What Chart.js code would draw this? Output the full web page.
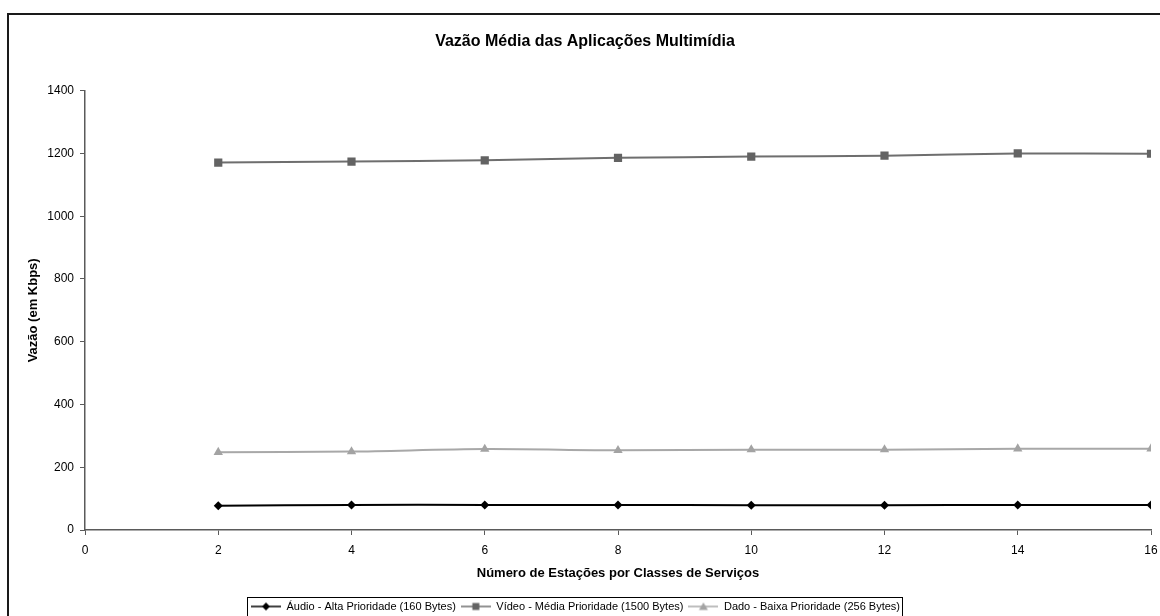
<!DOCTYPE html>
<html>
<head>
<meta charset="utf-8">
<script src="https://cdn.jsdelivr.net/npm/chart.js@4/dist/chart.umd.min.js"></script>
<style>
  html, body { margin: 0; padding: 0; background: #fff; overflow: hidden; }
  #frame { position: absolute; left: 7px; top: 13px; width: 2000px; height: 2000px;
           border-top: 2px solid #1a1a1a; border-left: 2px solid #1a1a1a; }
  #wrap { position: absolute; left: 0; top: 0; width: 1160px; height: 616px; }
</style>
</head>
<body>
<div id="frame"></div>
<div id="wrap"><canvas id="c" width="1160" height="616"></canvas></div>
<script>
const chartTitle = 'Vazão Média das Aplicações Multimídia';
const xTitle = 'Número de Estações por Classes de Serviços';
const yTitle = 'Vazão (em Kbps)';
const stations = [2, 4, 6, 8, 10, 12, 14, 16];
const seriesNames = [
  'Áudio - Alta Prioridade (160 Bytes)',
  'Vídeo - Média Prioridade (1500 Bytes)',
  'Dado - Baixa Prioridade (256 Bytes)'
];
const audio = [77, 80, 80, 80, 79, 79, 80, 80];
const video = [1171, 1174, 1178, 1186, 1190, 1193, 1200, 1199];
const dado  = [248, 250, 258, 254, 256, 256, 259, 259];
const xTicks = [0, 2, 4, 6, 8, 10, 12, 14, 16];
const yTicks = [0, 200, 400, 600, 800, 1000, 1200, 1400];

const FONT = '"Liberation Sans", Arial, sans-serif';
Chart.defaults.font.family = FONT;
Chart.defaults.color = '#000';

const styles = [
  { line: '#000000', fill: '#000000', point: 'rectRot', radius: 4.5 },
  { line: '#6e6e6e', fill: '#636363', point: 'rect', radius: 5.8 },
  { line: '#a8a8a8', fill: '#a3a3a3', point: 'triangle', radius: 5.4 }
];
const values = [audio, video, dado];

function makeIcon(s) {
  const cv = document.createElement('canvas');
  cv.width = 30; cv.height = 12;
  const ctx = cv.getContext('2d');
  ctx.strokeStyle = s.line; ctx.lineWidth = 1.5;
  ctx.beginPath(); ctx.moveTo(0, 6); ctx.lineTo(30, 6); ctx.stroke();
  ctx.fillStyle = s.fill;
  ctx.beginPath();
  if (s.point === 'rectRot') {
    ctx.moveTo(15, 2); ctx.lineTo(19, 6); ctx.lineTo(15, 10); ctx.lineTo(11, 6);
  } else if (s.point === 'rect') {
    ctx.rect(11.5, 2.5, 7, 7);
  } else {
    ctx.moveTo(15, 2); ctx.lineTo(19.5, 9.5); ctx.lineTo(10.5, 9.5);
  }
  ctx.closePath(); ctx.fill();
  return cv;
}
const icons = styles.map(makeIcon);

const datasets = values.map((vals, i) => ({
  label: seriesNames[i],
  data: stations.map((x, k) => ({ x: x, y: vals[k] })),
  borderColor: styles[i].line,
  backgroundColor: styles[i].fill,
  pointBackgroundColor: styles[i].fill,
  pointBorderColor: styles[i].fill,
  pointBorderWidth: 0,
  pointStyle: styles[i].point,
  pointRadius: styles[i].radius,
  pointHoverRadius: styles[i].radius,
  borderWidth: 2,
  tension: 0.3,
  fill: false
}));

const extras = {
  id: 'extras',
  afterLayout(chart) {
    if (chart.titleBlock) { chart.titleBlock.left = 10; chart.titleBlock.right = 1160; }
  },
  afterDraw(chart) {
    const lg = chart.legend;
    if (!lg || !lg.legendHitBoxes || !lg.legendHitBoxes.length) return;
    const hb = lg.legendHitBoxes;
    let l = Infinity, r = -Infinity, t = Infinity;
    hb.forEach(h => { l = Math.min(l, h.left); r = Math.max(r, h.left + h.width); t = Math.min(t, h.top); });
    const ctx = chart.ctx;
    ctx.save();
    ctx.strokeStyle = '#000';
    ctx.lineWidth = 1;
    ctx.strokeRect(Math.round(l - 4) + 0.5, Math.round(t - 4) + 0.5, Math.round(r - l + 6), 40);
    ctx.restore();
  }
};

new Chart(document.getElementById('c'), {
  type: 'line',
  data: { datasets: datasets },
  options: {
    responsive: false,
    animation: false,
    events: [],
    layout: { padding: { left: 0, right: 9, top: 0, bottom: -6 } },
    plugins: {
      title: {
        display: true,
        text: chartTitle,
        font: { size: 16, weight: 'bold', family: FONT },
        color: '#000',
        padding: { top: 32.4, bottom: 39.1 }
      },
      legend: {
        display: true,
        position: 'bottom',
        labels: {
          font: { size: 11, family: FONT },
          color: '#000',
          usePointStyle: true,
          pointStyleWidth: 30,
          padding: 5,
          generateLabels(chart) {
            const items = Chart.defaults.plugins.legend.labels.generateLabels(chart);
            items.forEach(it => { it.pointStyle = icons[it.datasetIndex]; });
            return items;
          }
        }
      },
      tooltip: { enabled: false }
    },
    scales: {
      x: {
        type: 'linear',
        min: 0, max: 16,
        afterBuildTicks(scale) { scale.ticks = xTicks.map(v => ({ value: v })); },
        ticks: { font: { size: 12, family: FONT }, color: '#000', padding: 8, maxRotation: 0,
                 callback: v => String(v) },
        grid: { drawOnChartArea: false, drawTicks: true, tickLength: 5, color: '#5a5a5a' },
        border: { display: true, color: '#5a5a5a', width: 1.5 },
        title: {
          display: true, text: xTitle,
          font: { size: 13, weight: 'bold', family: FONT }, color: '#000',
          padding: { top: 0, bottom: 15.2 }
        },
        afterFit(scale) { scale.height = 66; scale.paddingRight = 0; scale.paddingLeft = 0; }
      },
      y: {
        type: 'linear',
        min: 0, max: 1400,
        afterBuildTicks(scale) { scale.ticks = yTicks.map(v => ({ value: v })); },
        ticks: { font: { size: 12, family: FONT }, color: '#000', padding: 6,
                 callback: v => String(v) },
        grid: { drawOnChartArea: false, drawTicks: true, tickLength: 5, color: '#5a5a5a' },
        border: { display: true, color: '#5a5a5a', width: 1.5 },
        title: {
          display: true, text: yTitle,
          font: { size: 13, weight: 'bold', family: FONT }, color: '#000',
          padding: { top: 25.7, bottom: 0 }
        },
        afterFit(scale) { scale.width = 85; }
      }
    }
  },
  plugins: [extras]
});
</script>
</body>
</html>
